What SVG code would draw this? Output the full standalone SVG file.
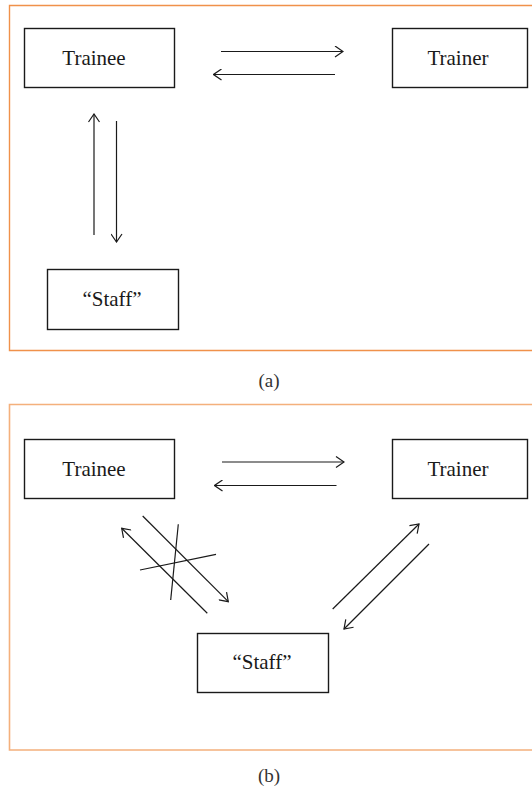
<svg xmlns="http://www.w3.org/2000/svg" width="532" height="788" viewBox="0 0 532 788">
<defs>
<style>
.frameA{fill:none;stroke:#F0914A;stroke-width:1.4}
.frameB{fill:none;stroke:#F4B07C;stroke-width:1.6}
.box{fill:#fff;stroke:#1a1a1a;stroke-width:1.4}
.lbl{font-family:"Liberation Serif","Times New Roman",serif;font-size:21px;fill:#1a1a1a;text-anchor:middle}
.cap{font-family:"Liberation Serif","Times New Roman",serif;font-size:19px;fill:#333;text-anchor:middle}
.ln{fill:none;stroke:#1a1a1a;stroke-width:1.2}
.ar{fill:none;stroke:#1a1a1a;stroke-width:1.2;marker-end:url(#head)}
</style>
<marker id="head" viewBox="0 0 10 12" refX="9" refY="6" markerWidth="10" markerHeight="12" markerUnits="userSpaceOnUse" orient="auto">
<path d="M1,0.5 L9,6 L1,11.5" fill="none" stroke="#1a1a1a" stroke-width="1.2"/>
</marker>
</defs>
<rect width="532" height="788" fill="#fff"/>
<!-- panel a -->
<path class="frameA" d="M533,5.5 H9.5 V350.5 H533"/>
<g id="a-trainee"><rect class="box" x="24.5" y="28.5" width="150" height="59"/><text class="lbl" x="94" y="64.5">Trainee</text></g>
<g id="a-trainer"><rect class="box" x="392.5" y="28.5" width="135" height="59"/><text class="lbl" x="458" y="64.5">Trainer</text></g>
<g id="a-staff"><rect class="box" x="47.5" y="269.5" width="131" height="60"/><text class="lbl" x="112" y="305.5">“Staff”</text></g>
<g id="a-connectors">
<line class="ar" x1="221" y1="51.5" x2="343" y2="51.5"/>
<line class="ar" x1="335" y1="74.5" x2="213.5" y2="74.5"/>
<line class="ar" x1="94" y1="235" x2="94" y2="114"/>
<line class="ar" x1="116.5" y1="121" x2="116.5" y2="242"/>
</g>
<text class="cap" x="269" y="387">(a)</text>
<!-- panel b -->
<path class="frameB" d="M533,404.5 H9.5 V750 H533"/>
<g id="b-trainee"><rect class="box" x="24.5" y="439.5" width="150" height="59"/><text class="lbl" x="94" y="475.5">Trainee</text></g>
<g id="b-trainer"><rect class="box" x="392.5" y="439.5" width="135" height="59"/><text class="lbl" x="458" y="475.5">Trainer</text></g>
<g id="b-staff"><rect class="box" x="197.5" y="633.5" width="131" height="59"/><text class="lbl" x="262" y="669">“Staff”</text></g>
<g id="b-connectors">
<line class="ar" x1="222" y1="462" x2="344" y2="462"/>
<line class="ar" x1="336.5" y1="485.5" x2="214.5" y2="485.5"/>
<line class="ar" x1="207.3" y1="613.3" x2="121.7" y2="528.3"/>
<line class="ar" x1="142.7" y1="516" x2="228.3" y2="601.7"/>
<line class="ln" x1="178.3" y1="524.3" x2="170.7" y2="600"/>
<line class="ln" x1="140" y1="570" x2="216" y2="554.3"/>
<line class="ar" x1="332.7" y1="609" x2="419" y2="524"/>
<line class="ar" x1="429" y1="544" x2="344" y2="629"/>
</g>
<text class="cap" x="269" y="782">(b)</text>
</svg>
